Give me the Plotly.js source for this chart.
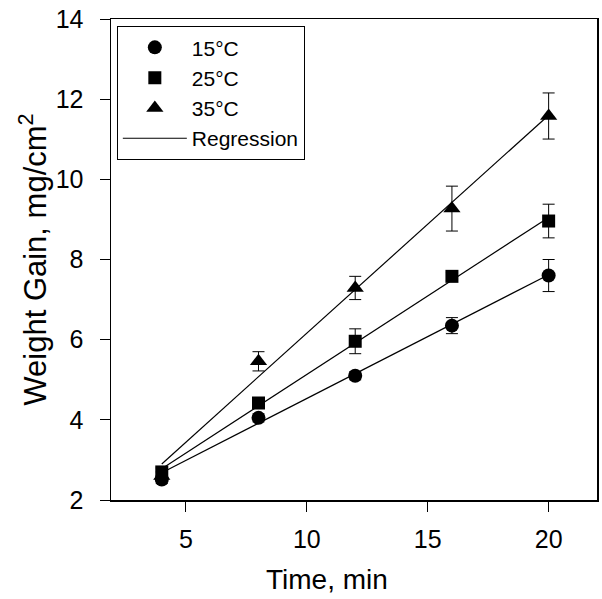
<!DOCTYPE html>
<html>
<head>
<meta charset="utf-8">
<script src="https://cdn.plot.ly/plotly-3.0.1.min.js"></script>
<style>html,body{margin:0;padding:0;background:#fff}#chart{width:602px;height:599px}</style>
</head>
<body>
<div id="chart"></div>
<script>
// Data
const time = [4, 8, 12, 16, 20];
const gain15 = [2.51, 4.05, 5.10, 6.35, 7.60];
const gain25 = [2.70, 4.42, 5.96, 7.58, 8.96];
const gain35 = [2.60, 5.46, 7.29, 9.27, 11.58];
const err15 = [0.1, 0.1, 0.1, 0.2, 0.4];
const err25 = [0.1, 0.1, 0.31, 0.1, 0.42];
const err35 = [0.1, 0.24, 0.29, 0.56, 0.575];
// Regression line endpoints
const regX = [4, 20];
const reg15 = [2.68, 7.62];
const reg25 = [2.78, 9.05];
const reg35 = [2.9, 11.6];
const seriesNames = ['15°C', '25°C', '35°C'];
const xTitle = 'Time, min';
const yTitle = 'Weight Gain, mg/cm<sup>2</sup>';

const font = 'Liberation Sans, Arial, sans-serif';
const errStyle = (arr) => ({type: 'data', array: arr, visible: true, color: '#000', thickness: 1, width: 6});

const t15 = {x: time, y: gain15, name: seriesNames[0], mode: 'markers', type: 'scatter', legendrank: 1,
   marker: {symbol: 'circle', size: 14, color: '#000'}, error_y: errStyle(err15)};
const t25 = {x: time, y: gain25, name: seriesNames[1], mode: 'markers', type: 'scatter', legendrank: 2,
   marker: {symbol: 'square', size: 13, color: '#000'}, error_y: errStyle(err25)};
const t35 = {x: time, y: gain35, name: seriesNames[2], mode: 'markers', type: 'scatter', legendrank: 3,
   marker: {symbol: 'triangle-up', size: 15, color: '#000'}, error_y: errStyle(err35)};
const r15 = {x: regX, y: reg15, name: 'Regression', mode: 'lines', type: 'scatter', legendrank: 4,
   line: {color: '#000', width: 1.2}, showlegend: true};
const r25 = {x: regX, y: reg25, name: 'Regression', mode: 'lines', type: 'scatter',
   line: {color: '#000', width: 1.2}, showlegend: false};
const r35 = {x: regX, y: reg35, name: 'Regression', mode: 'lines', type: 'scatter',
   line: {color: '#000', width: 1.2}, showlegend: false};
// triangles drawn first so the hidden one at t=4 stays behind the square
const traces = [t35, t15, t25, r15, r25, r35];

const layout = {
  width: 602, height: 599,
  margin: {l: 111, r: 5, t: 19, b: 99},
  paper_bgcolor: '#fff', plot_bgcolor: '#fff',
  font: {family: font, color: '#000', size: 22},
  showlegend: true,
  legend: {x: 0.012, y: 0.985, xanchor: 'left', yanchor: 'top',
           bordercolor: '#000', borderwidth: 1, bgcolor: '#fff',
           font: {family: font, size: 21, color: '#000'}, itemwidth: 64,
           traceorder: 'normal'},
  xaxis: {range: [1.9, 22], tickvals: [5, 10, 15, 20], ticks: 'outside', ticklen: 10,
          tickwidth: 1, tickcolor: '#000', showline: true, linecolor: '#000', linewidth: 1.5,
          mirror: true, showgrid: false, zeroline: false, ticklabelstandoff: 6,
          tickfont: {family: font, size: 25, color: '#000'}},
  yaxis: {range: [2, 14], dtick: 2, ticks: 'outside', ticklen: 10,
          tickwidth: 1, tickcolor: '#000', showline: true, linecolor: '#000', linewidth: 1.5,
          mirror: true, showgrid: false, zeroline: false, ticklabelstandoff: 11,
          tickfont: {family: font, size: 25, color: '#000'},
          title: {text: yTitle, font: {family: font, size: 31, color: '#000'}, standoff: 0}},
  annotations: [
    {text: xTitle, xref: 'paper', yref: 'paper', x: 0.444, y: -0.166,
     xanchor: 'center', yanchor: 'middle', showarrow: false,
     font: {family: font, size: 28, color: '#000'}}
  ]
};

Plotly.newPlot('chart', traces, layout, {displayModeBar: false, staticPlot: true});
</script>
</body>
</html>
